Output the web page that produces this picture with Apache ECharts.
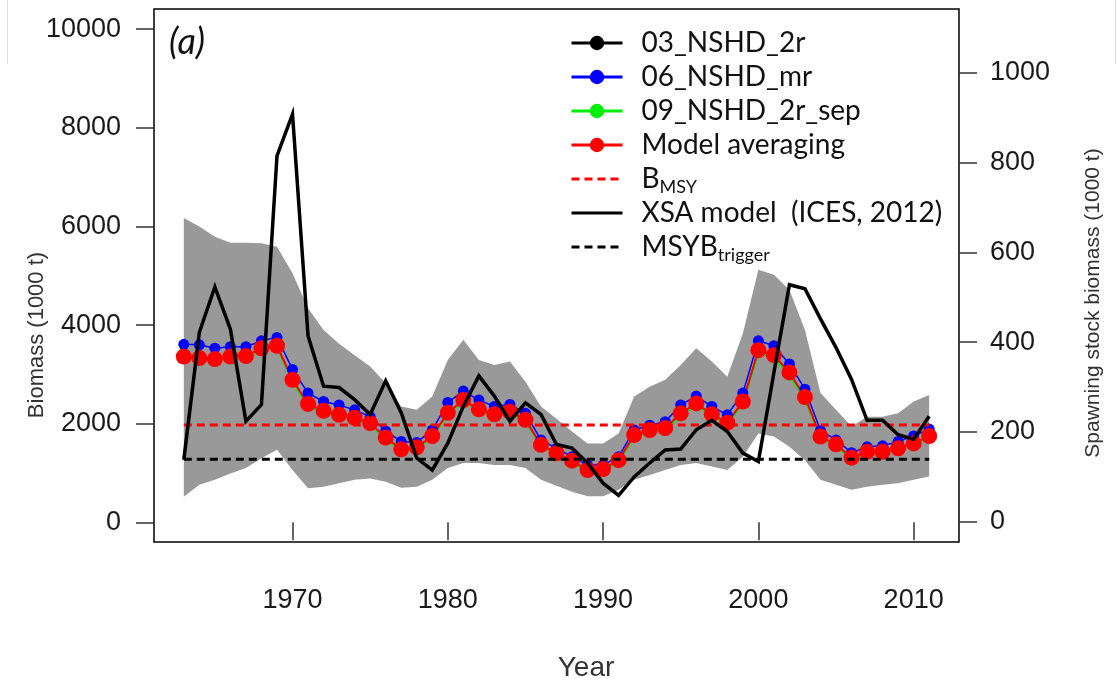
<!DOCTYPE html>
<html><head><meta charset="utf-8">
<script src="https://cdn.jsdelivr.net/npm/echarts@6/dist/echarts.min.js"></script>
<style>html,body{margin:0;padding:0;background:#fff}#c{width:1118px;height:682px}</style>
</head><body><div id="c"></div>
<script>
const years = [1963,1964,1965,1966,1967,1968,1969,1970,1971,1972,1973,1974,1975,1976,1977,1978,1979,1980,1981,1982,1983,1984,1985,1986,1987,1988,1989,1990,1991,1992,1993,1994,1995,1996,1997,1998,1999,2000,2001,2002,2003,2004,2005,2006,2007,2008,2009,2010,2011];

const nshd03_2r = [3345,3315,3295,3345,3355,3515,3565,2875,2385,2245,2165,2105,1995,1705,1465,1505,1735,2205,2465,2275,2175,2225,2065,1555,1385,1235,1045,1065,1245,1755,1855,1895,2195,2395,2175,2005,2435,3475,3375,3025,2525,1725,1565,1295,1415,1415,1485,1585,1735];
const nshd06_mr = [3610,3600,3530,3560,3560,3680,3750,3100,2620,2450,2380,2280,2140,1850,1640,1620,1870,2430,2660,2480,2350,2390,2210,1670,1500,1330,1160,1160,1330,1870,1970,2040,2380,2560,2350,2180,2620,3680,3580,3210,2700,1860,1670,1410,1530,1550,1640,1750,1890];
const nshd09_2r_sep = [3330,3300,3280,3330,3340,3500,3550,2850,2360,2220,2150,2090,1980,1690,1450,1490,1720,2190,2450,2260,2160,2210,2050,1540,1370,1220,1030,1050,1230,1730,1840,1880,2170,2370,2160,1990,2410,3440,3340,2990,2490,1710,1550,1280,1400,1400,1470,1570,1720];
const modelAveraging = [3360,3330,3310,3360,3370,3530,3580,2890,2400,2260,2180,2120,2010,1720,1480,1520,1750,2220,2480,2290,2190,2240,2080,1570,1400,1250,1060,1080,1260,1770,1870,1910,2210,2410,2190,2020,2450,3490,3390,3040,2540,1740,1580,1310,1430,1430,1500,1600,1750];
const ciUpper = [6170,6000,5790,5670,5670,5660,5590,5050,4340,3900,3620,3390,3160,2820,2350,2280,2550,3290,3700,3290,3190,3260,2850,2350,2100,1840,1600,1600,1800,2550,2750,2890,3190,3530,3260,2950,3830,5120,5020,4710,3900,2620,2280,1940,2140,2140,2210,2450,2580];
const ciLower = [520,760,860,990,1100,1300,1470,1060,690,720,790,860,890,820,700,720,860,1100,1200,1200,1160,1160,1100,860,740,620,530,530,660,860,960,1060,1160,1200,1130,1060,1330,1800,1740,1530,1260,860,760,660,720,760,790,860,930];
const xsaSSB = [138,422,523,429,224,261,815,908,414,302,299,272,239,314,243,142,115,175,257,325,280,224,265,239,172,164,131,86,59,100,131,160,162,205,226,201,153,134,332,528,519,452,388,317,226,226,194,184,235];
const bMSY = 1975;
const msyBtrigger = 1280;

const xTicks = [1970,1980,1990,2000,2010];
const leftTicks = [0,2000,4000,6000,8000,10000];
const rightTicks = [0,200,400,600,800,1000];

const pairs = arr => years.map((y, i) => [y, arr[i]]);
const constLine = v => years.map(y => [y, v]);

const AX_FONT = 'Liberation Sans';
const LEG_FONT = 'Lato';
const NONE = 'rgba(0,0,0,0)';

const chart = echarts.init(document.getElementById('c'), null, {renderer: 'canvas'});

function modelSeries(name, arr, color, size, width) {
  return {
    name, type: 'line', data: pairs(arr), yAxisIndex: 0, z: 3,
    symbol: 'circle', symbolSize: size, showSymbol: true,
    lineStyle: {color, width}, itemStyle: {color, borderWidth: 0},
    silent: true, animation: false
  };
}

const option = {
  animation: false,
  backgroundColor: '#fff',
  grid: {left: 154, top: 9, width: 805, height: 533, show: true, borderColor: '#000', borderWidth: 1.5, backgroundColor: 'transparent'},
  xAxis: {
    type: 'value', min: 1961.08, max: 2012.92,
    axisLine: {show: false}, splitLine: {show: false},
    axisTick: {show: true, inside: false, length: 18, customValues: xTicks, lineStyle: {color: '#333', width: 1.5}},
    axisLabel: {customValues: xTicks, margin: 45, fontSize: 27, fontFamily: AX_FONT, color: '#1a1a1a', formatter: v => String(v)}
  },
  yAxis: [
    {
      type: 'value', min: -400, max: 10410, position: 'left',
      axisLine: {show: false}, splitLine: {show: false},
      axisTick: {show: true, inside: false, length: 18, customValues: leftTicks, lineStyle: {color: '#333', width: 1.5}},
      axisLabel: {customValues: leftTicks, margin: 33, fontSize: 27, fontFamily: AX_FONT, color: '#1a1a1a', formatter: v => String(v)}
    },
    {
      type: 'value', min: -45, max: 1142, position: 'right',
      axisLine: {show: false}, splitLine: {show: false},
      axisTick: {show: true, inside: false, length: 18, customValues: rightTicks, lineStyle: {color: '#333', width: 1.5}},
      axisLabel: {customValues: rightTicks, margin: 31, fontSize: 27, fontFamily: AX_FONT, color: '#1a1a1a', formatter: v => String(v)}
    }
  ],
  legend: {
    orient: 'vertical', left: 565, top: 21, itemWidth: 51, itemHeight: 18, itemGap: 0,
    selectedMode: false,
    data: ['03_NSHD_2r', '06_NSHD_mr', '09_NSHD_2r_sep', 'Model averaging', 'BMSY', 'XSA model  (ICES, 2012)', 'MSYBtrigger'],
    formatter: name => name === 'BMSY' ? '{m|B}{s|MSY}' : (name === 'MSYBtrigger' ? '{m|MSYB}{s|trigger}' : '{m|' + name + '}'),
    textStyle: {
      fontFamily: LEG_FONT, fontSize: 28, lineHeight: 34, color: '#111', padding: [0, 0, 0, 14],
      rich: {
        m: {fontFamily: LEG_FONT, fontSize: 28, lineHeight: 34, color: '#111'},
        s: {fontFamily: LEG_FONT, fontSize: 18, lineHeight: 18, verticalAlign: 'bottom', color: '#111'}
      }
    },
    lineStyle: {width: 3}
  },
  graphic: [
    {type: 'text', left: 169, top: 24, style: {text: '(a)', font: 'italic 36px Lato', fill: '#111'}, silent: true},
    {type: 'text', x: 37, y: 335, rotation: Math.PI / 2, style: {text: 'Biomass (1000 t)', font: '22px "Liberation Sans"', fill: '#333', align: 'center', verticalAlign: 'middle'}, silent: true},
    {type: 'text', x: 1093, y: 303, rotation: Math.PI / 2, style: {text: 'Spawning stock biomass (1000 t)', font: '21px "Liberation Sans"', fill: '#333', align: 'center', verticalAlign: 'middle'}, silent: true},
    {type: 'text', x: 586, y: 668, style: {text: 'Year', font: '28px "Liberation Sans"', fill: '#333', align: 'center', verticalAlign: 'middle'}, silent: true},
    {type: 'line', shape: {x1: 7.5, y1: 0, x2: 7.5, y2: 64}, style: {stroke: '#dcdcdc', lineWidth: 1}, silent: true},
    {type: 'line', shape: {x1: 1115.5, y1: 0, x2: 1115.5, y2: 64}, style: {stroke: '#dcdcdc', lineWidth: 1}, silent: true}
  ],
  series: [
    {
      name: 'ci', type: 'custom', silent: true, z: 1, clip: true,
      data: [[years[0], ciLower[0]]],
      renderItem: (params, api) => {
        const pts = [];
        for (let i = 0; i < years.length; i++) pts.push(api.coord([years[i], ciUpper[i]]));
        for (let i = years.length - 1; i >= 0; i--) pts.push(api.coord([years[i], ciLower[i]]));
        return {type: 'polygon', shape: {points: pts}, style: {fill: '#999999', stroke: null}};
      }
    },
    modelSeries('03_NSHD_2r', nshd03_2r, '#000000', 11, 1.5),
    modelSeries('06_NSHD_mr', nshd06_mr, '#0000ff', 11, 1.5),
    modelSeries('09_NSHD_2r_sep', nshd09_2r_sep, '#00ee00', 11, 2),
    modelSeries('Model averaging', modelAveraging, '#ff0000', 16, 2),
    {name: 'BMSY', type: 'line', z: 4, data: constLine(bMSY), symbol: 'none', lineStyle: {color: '#ff0000', width: 3, type: [8, 5]}, itemStyle: {color: NONE}, silent: true},
    {name: 'MSYBtrigger', type: 'line', z: 4, data: constLine(msyBtrigger), symbol: 'none', lineStyle: {color: '#000000', width: 3, type: [8, 5]}, itemStyle: {color: NONE}, silent: true},
    {name: 'XSA model  (ICES, 2012)', type: 'line', z: 5, yAxisIndex: 1, data: pairs(xsaSSB), symbol: 'none', lineStyle: {color: '#000000', width: 3.5, join: 'miter'}, itemStyle: {color: NONE}, silent: true}
  ]
};
chart.setOption(option);
</script>
</body></html>
